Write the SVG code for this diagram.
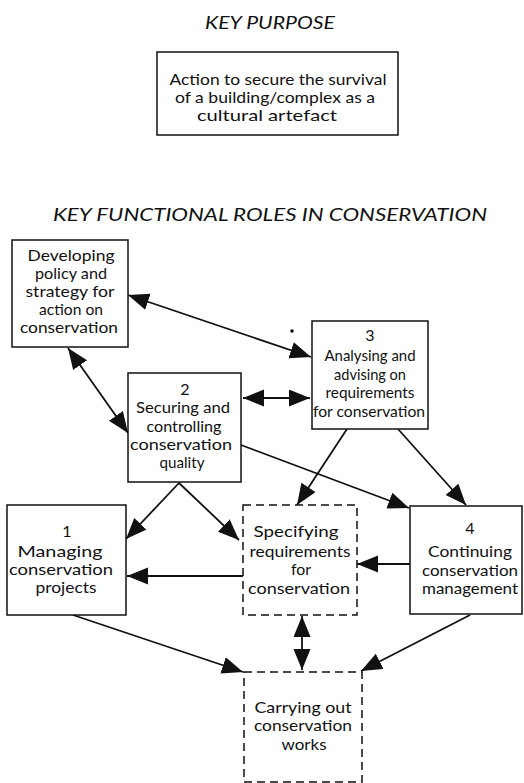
<svg xmlns="http://www.w3.org/2000/svg" width="524" height="783" viewBox="0 0 524 783">
<style>
text{font-family:Lato,"Open Sans","Liberation Sans",sans-serif;fill:#111;text-anchor:middle;font-size:16px}
.title{font-style:italic;font-size:18px}
.box{fill:#fff;stroke:#111;stroke-width:1.5}
.dash{fill:#fff;stroke:#111;stroke-width:1.5;stroke-dasharray:8,5}
.c{fill:none;stroke:#111;stroke-width:1.8}
</style>
<defs>
<marker id="ah" markerUnits="userSpaceOnUse" markerWidth="23" markerHeight="18" refX="21" refY="8.5" orient="auto-start-reverse" viewBox="0 0 23 18">
<path d="M0,0 L21,8.5 L0,17 z" fill="#111"/>
</marker>
</defs>
<rect width="524" height="783" fill="#fff"/>

<text class="title" x="270" y="29" textLength="130" lengthAdjust="spacingAndGlyphs">KEY PURPOSE</text>
<g id="purpose">
<rect class="box" x="157" y="52" width="241" height="83"/>
<text x="278" y="85" textLength="217" lengthAdjust="spacingAndGlyphs">Action to secure the survival</text>
<text x="275" y="103" textLength="200" lengthAdjust="spacingAndGlyphs">of a building/complex as a</text>
<text x="267" y="121" textLength="140" lengthAdjust="spacingAndGlyphs">cultural artefact</text>
</g>

<text class="title" x="270" y="221" textLength="434" lengthAdjust="spacingAndGlyphs">KEY FUNCTIONAL ROLES IN CONSERVATION</text>

<g id="connectors">
<line class="c" x1="128" y1="295" x2="311" y2="357" marker-start="url(#ah)" marker-end="url(#ah)"/>
<line class="c" x1="68" y1="348" x2="128" y2="433" marker-start="url(#ah)" marker-end="url(#ah)"/>
<line class="c" x1="243" y1="398" x2="310" y2="398" marker-start="url(#ah)" marker-end="url(#ah)"/>
<line class="c" x1="179" y1="483" x2="126" y2="539" marker-end="url(#ah)"/>
<line class="c" x1="179" y1="483" x2="239" y2="540" marker-end="url(#ah)"/>
<line class="c" x1="241" y1="445" x2="409" y2="508" marker-end="url(#ah)"/>
<line class="c" x1="347" y1="429" x2="297" y2="505" marker-end="url(#ah)"/>
<line class="c" x1="398" y1="429" x2="466" y2="505" marker-end="url(#ah)"/>
<line class="c" x1="410" y1="564" x2="357" y2="564" marker-end="url(#ah)"/>
<line class="c" x1="243" y1="576" x2="127" y2="576" marker-end="url(#ah)"/>
<line class="c" x1="73" y1="615" x2="243" y2="672" marker-end="url(#ah)"/>
<line class="c" x1="470" y1="615" x2="361" y2="671" marker-end="url(#ah)"/>
<line class="c" x1="302" y1="616" x2="302" y2="670" marker-start="url(#ah)" marker-end="url(#ah)"/>
<circle cx="292" cy="331" r="1.8" fill="#111"/>
</g>

<g id="developing">
<rect class="box" x="12" y="240" width="116" height="107"/>
<text x="71" y="261" textLength="87" lengthAdjust="spacingAndGlyphs">Developing</text>
<text x="71" y="279" textLength="72" lengthAdjust="spacingAndGlyphs">policy and</text>
<text x="70" y="297" textLength="89" lengthAdjust="spacingAndGlyphs">strategy for</text>
<text x="71" y="315" textLength="64" lengthAdjust="spacingAndGlyphs">action on</text>
<text x="69" y="333" textLength="98" lengthAdjust="spacingAndGlyphs">conservation</text>
</g>

<g id="role3">
<rect class="box" x="312" y="321" width="116" height="108"/>
<text x="370" y="341">3</text>
<text x="370" y="361" textLength="91" lengthAdjust="spacingAndGlyphs">Analysing and</text>
<text x="370" y="380" textLength="72" lengthAdjust="spacingAndGlyphs">advising on</text>
<text x="370" y="398" textLength="89" lengthAdjust="spacingAndGlyphs">requirements</text>
<text x="369" y="417" textLength="112" lengthAdjust="spacingAndGlyphs">for conservation</text>
</g>

<g id="role2">
<rect class="box" x="128" y="373" width="113" height="109"/>
<text x="185" y="395">2</text>
<text x="183" y="413" textLength="94" lengthAdjust="spacingAndGlyphs">Securing and</text>
<text x="184" y="432" textLength="75" lengthAdjust="spacingAndGlyphs">controlling</text>
<text x="181" y="450" textLength="102" lengthAdjust="spacingAndGlyphs">conservation</text>
<text x="182" y="468" textLength="45" lengthAdjust="spacingAndGlyphs">quality</text>
</g>

<g id="role1">
<rect class="box" x="7" y="505" width="119" height="110"/>
<text x="67" y="537">1</text>
<text x="60" y="557" textLength="85" lengthAdjust="spacingAndGlyphs">Managing</text>
<text x="61" y="575" textLength="104" lengthAdjust="spacingAndGlyphs">conservation</text>
<text x="66" y="593" textLength="61" lengthAdjust="spacingAndGlyphs">projects</text>
</g>

<g id="specifying">
<rect class="dash" x="243" y="505" width="114" height="110"/>
<text x="296" y="537" textLength="85" lengthAdjust="spacingAndGlyphs">Specifying</text>
<text x="300" y="557" textLength="101" lengthAdjust="spacingAndGlyphs">requirements</text>
<text x="301" y="575" textLength="20" lengthAdjust="spacingAndGlyphs">for</text>
<text x="299" y="594" textLength="102" lengthAdjust="spacingAndGlyphs">conservation</text>
</g>

<g id="role4">
<rect class="box" x="410" y="506" width="112" height="108"/>
<text x="470" y="534">4</text>
<text x="470" y="557" textLength="84" lengthAdjust="spacingAndGlyphs">Continuing</text>
<text x="470" y="576" textLength="96" lengthAdjust="spacingAndGlyphs">conservation</text>
<text x="470" y="594" textLength="96" lengthAdjust="spacingAndGlyphs">management</text>
</g>

<g id="carrying">
<rect class="dash" x="244" y="672" width="118" height="110"/>
<text x="303" y="713" textLength="97" lengthAdjust="spacingAndGlyphs">Carrying out</text>
<text x="303" y="731" textLength="98" lengthAdjust="spacingAndGlyphs">conservation</text>
<text x="304" y="750" textLength="45" lengthAdjust="spacingAndGlyphs">works</text>
</g>
</svg>
